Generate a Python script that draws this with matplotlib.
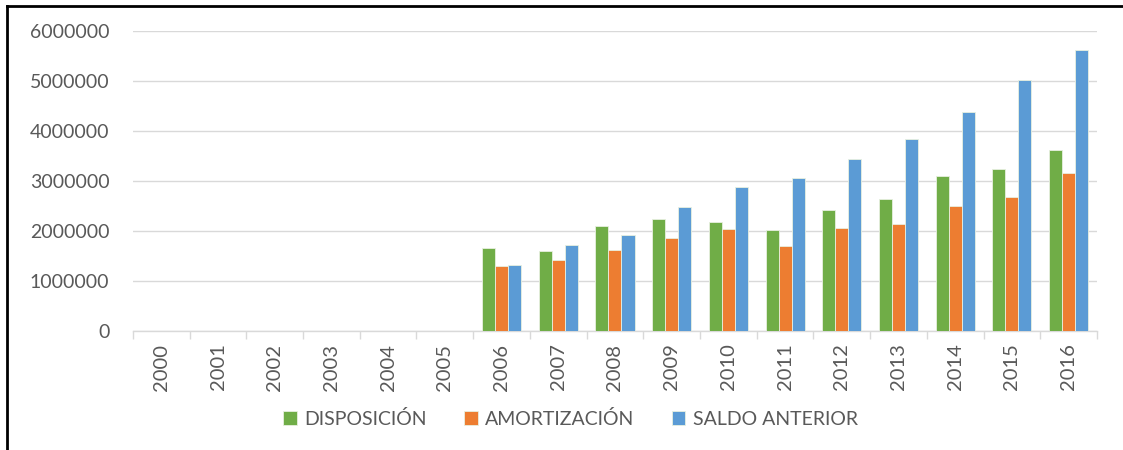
import numpy as np
import matplotlib.pyplot as plt
from matplotlib.lines import Line2D

plt.rcParams['font.family'] = ['Lato', 'DejaVu Sans']

years = [str(y) for y in range(2000, 2017)]
disposicion = [0, 0, 0, 0, 0, 0, 1670000, 1610000, 2110000, 2250000, 2190000,
               2020000, 2430000, 2650000, 3100000, 3250000, 3630000]
amortizacion = [0, 0, 0, 0, 0, 0, 1310000, 1420000, 1620000, 1870000, 2040000,
                1700000, 2060000, 2150000, 2510000, 2690000, 3160000]
saldo_anterior = [0, 0, 0, 0, 0, 0, 1330000, 1720000, 1930000, 2490000, 2880000,
                  3070000, 3440000, 3850000, 4390000, 5030000, 5620000]

series = [
    ("DISPOSICIÓN", disposicion, '#70AD47'),
    ("AMORTIZACIÓN", amortizacion, '#ED7D31'),
    ("SALDO ANTERIOR", saldo_anterior, '#5B9BD5'),
]

fig = plt.figure(figsize=(11.23, 4.5), dpi=100)
ax = fig.add_axes([0.1184, 0.2644, 0.8584, 0.6666])

x = np.arange(len(years))
w = 0.23
for i, (name, vals, col) in enumerate(series):
    ax.bar(x + (i - 1) * w, vals, width=w, color=col, label=name,
           edgecolor='#e8f0e0', linewidth=0.6, zorder=3)

ax.set_xlim(-0.5, len(years) - 0.5)
ax.set_ylim(0, 6000000)
ax.set_yticks(np.arange(0, 6000001, 1000000))
ax.set_yticklabels([str(v) for v in range(0, 6000001, 1000000)])
ax.yaxis.grid(True, color='#D9D9D9', linewidth=1, zorder=0)
ax.set_xticks(x)
ax.set_xticklabels(years, rotation=90)
ax.set_xticks(np.arange(-0.5, len(years)), minor=True)
ax.tick_params(axis='x', which='major', length=0, pad=9, labelsize=14.5, labelcolor='#595959')
ax.tick_params(axis='x', which='minor', length=6, color='#D9D9D9', width=1)
ax.tick_params(axis='y', length=0, pad=17, labelsize=14, labelcolor='#595959')

for s in ['top', 'right', 'left']:
    ax.spines[s].set_visible(False)
ax.spines['bottom'].set_color('#D9D9D9')
ax.spines['bottom'].set_linewidth(1)

leg = ax.legend(loc='center', bbox_to_anchor=(0.454, -0.293), ncol=3, frameon=False,
                fontsize=14, handlelength=0.7, handleheight=0.7, columnspacing=1.9,
                handletextpad=0.4)
for t in leg.get_texts():
    t.set_color('#595959')

# outer frame (left and top visible)
fig.add_artist(Line2D([7 / 1123, 7 / 1123], [0, 1 - 6 / 450], color='black',
                      linewidth=2, transform=fig.transFigure))
fig.add_artist(Line2D([7 / 1123, 1], [1 - 6 / 450, 1 - 6 / 450], color='black',
                      linewidth=2, transform=fig.transFigure))

fig.savefig("out.png", dpi=100)
